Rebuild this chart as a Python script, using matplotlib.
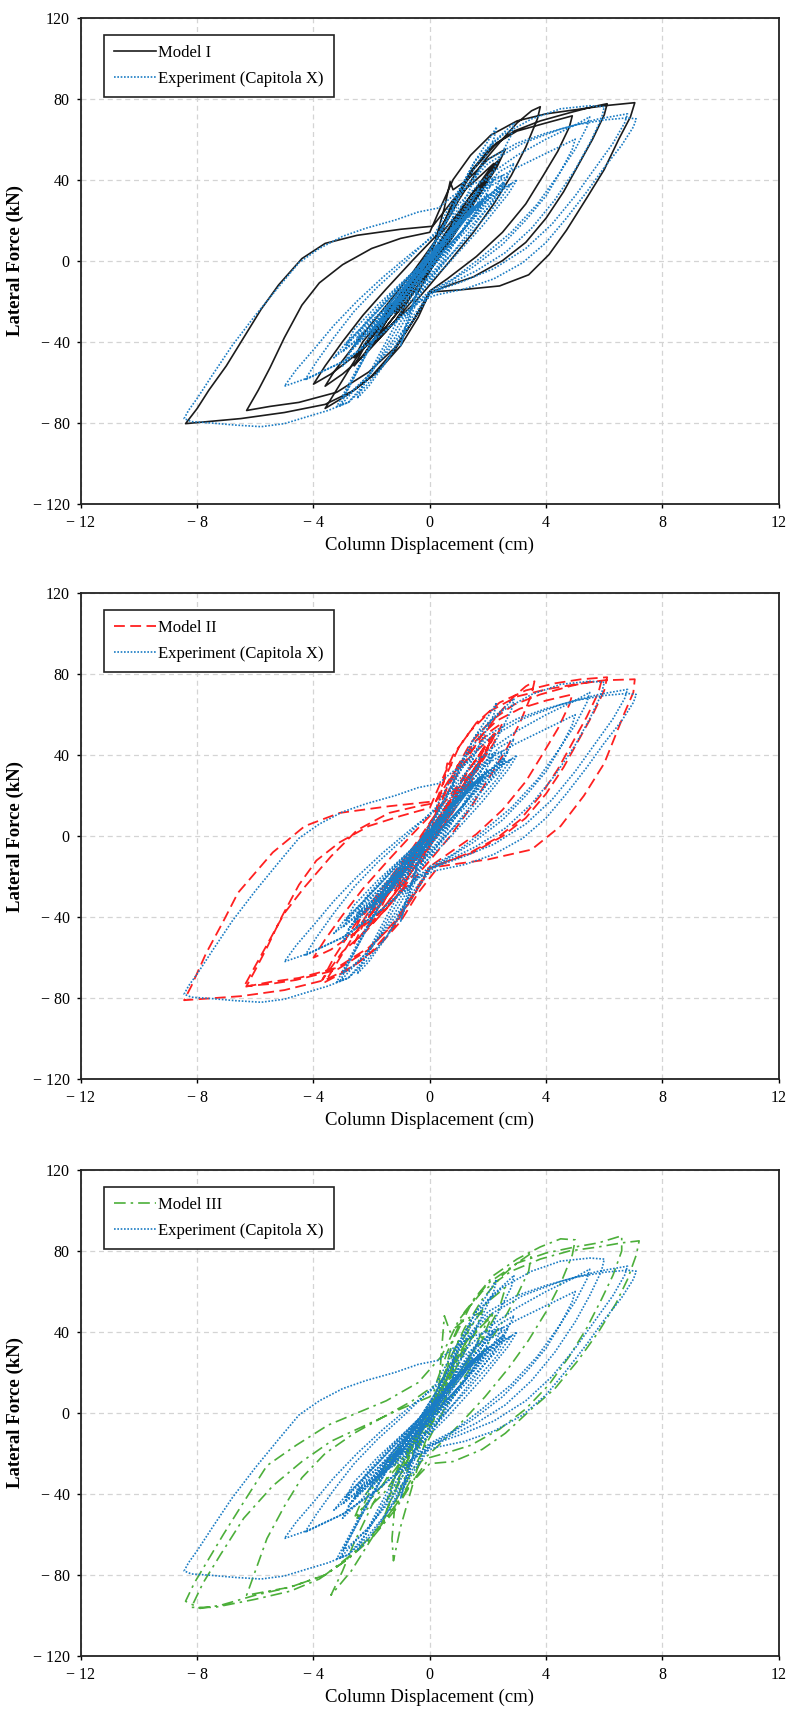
import matplotlib
matplotlib.use("Agg")
import matplotlib.pyplot as plt
from matplotlib.ticker import FuncFormatter, MultipleLocator

plt.rcParams['font.family'] = ['Liberation Serif', 'DejaVu Serif']

# ---- data: (column displacement cm, lateral force kN) ----
# Experiment (Capitola X), same record in all three panels
exp_path = [
    (0, 0), (0.3, 6), (0.5, 9), (0.3, 4), (0, -2), (-0.3, -7), (-0.5, -10), (-0.3, -5), (0, 1),
    (0.5, 11), (1.0, 19), (0.7, 12), (0.2, 2), (-0.3, -7), (-0.7, -14), (-1.0, -20), (-0.7, -13), (-0.2, -3), (0.3, 6),
    (0.8, 16), (1.5, 27), (1.2, 20), (0.6, 8), (0, -4), (-0.7, -15), (-1.5, -28), (-1.2, -21), (-0.6, -10), (0, 2), (0.6, 12),
    (1.2, 22), (2.0, 33), (1.7, 26), (1.0, 12), (0.2, -4), (-0.8, -18), (-2.0, -36), (-1.7, -29), (-1.0, -17), (-0.2, -2), (0.7, 14),
    (1.5, 26), (2.5, 38), (2.2, 30), (1.4, 15), (0.4, -3), (-0.8, -20), (-2.6, -42), (-2.3, -35), (-1.4, -21), (-0.3, -2), (0.8, 15),
    (1.8, 28), (3.0, 40), (2.7, 33), (1.8, 17), (0.6, -2), (-0.8, -22), (-2.0, -33), (-3.3, -48), (-2.9, -41), (-1.8, -25), (-0.6, -6), (0.6, 12),
    (2.0, 32), (2.8, 38), (2.3, 28), (1.2, 10), (0, -8), (-1.5, -28), (-3.0, -45), (-2.6, -37), (-1.4, -19), (0, 2), (1.0, 18),
    (1.8, 29), (1.2, 16), (0.3, 2), (-0.8, -16), (-1.8, -32), (-1.3, -20), (-0.3, -4), (0.3, 8),
    (0.6, 14), (1.4, 24), (2.2, 34), (2.6, 38), (2.4, 32), (1.6, 20), (0.8, 8), (0, -4), (-0.8, -16), (-1.6, -28),
    (-2.4, -40), (-2.8, -46), (-2.5, -40), (-1.7, -28), (-0.9, -15), (-0.1, -1), (0.7, 12),
    (1.5, 28), (2.2, 40), (1.9, 32), (1.1, 18), (0.3, 4), (-0.5, -10), (-1.3, -24), (-2.1, -38), (-1.8, -30), (-1.0, -16),
    (-0.2, -2), (0.6, 12),
    (1.0, 22), (1.7, 36), (1.4, 28), (0.7, 14), (0, 0), (-0.4, -12), (-0.7, -28), (-1.0, -42), (-0.8, -30), (-0.5, -18),
    (-0.2, -6), (0.3, 6),
    (0.9, 20), (1.6, 32), (2.4, 44), (2.9, 48), (2.6, 40), (1.9, 28), (1.1, 14), (0.3, 0), (-0.6, -14), (-1.5, -28),
    (-2.3, -42), (-3.0, -52), (-2.7, -44), (-2.0, -32), (-1.2, -18), (-0.4, -4), (0.4, 8),
    (1.2, 24), (2.0, 36), (2.7, 42), (2.4, 34), (1.6, 22), (0.8, 10), (-0.2, -6), (-1.2, -20), (-2.2, -32), (-2.9, -42),
    (-2.6, -34), (-1.8, -22), (-0.9, -10), (0, 2), (0.8, 14),
    (0.8, 28), (1.5, 48), (2.0, 59), (2.3, 66), (2.2, 60), (1.6, 42), (1.0, 24), (0.4, 6), (0, -6), (-0.5, -20),
    (-1.2, -38), (-2.0, -55), (-2.6, -64), (-3.1, -72), (-2.9, -66), (-2.4, -52), (-1.8, -36), (-1.1, -20), (-0.4, -4), (0.2, 10),
    (1.2, 38), (2.0, 56), (2.6, 64), (2.9, 68), (2.8, 62), (2.3, 48), (1.7, 30), (1.0, 12), (0.3, -4), (-0.3, -16),
    (-0.8, -32), (-1.5, -50), (-2.1, -62), (-2.5, -68), (-2.3, -62), (-1.8, -48), (-1.2, -32), (-0.6, -14), (0, 2), (0.4, 12),
    (1.0, 26), (2.0, 38), (3.0, 46), (4.0, 53), (5.0, 60), (4.9, 55), (4.5, 44), (4.0, 32), (3.3, 20), (2.5, 8), (1.5, -3),
    (0.5, -12), (0, -16), (-0.8, -26), (-1.8, -38), (-3.0, -50), (-4.2, -58), (-5.0, -62), (-4.6, -54), (-4.0, -44),
    (-3.3, -32), (-2.5, -20), (-1.6, -8), (-0.6, 4), (0.3, 14),
    (1.0, 28), (2.0, 42), (3.0, 52), (4.0, 60), (5.0, 67), (5.5, 71), (5.4, 66), (5.0, 55), (4.4, 42), (3.7, 28), (2.8, 14),
    (1.8, 2), (0.8, -9), (0, -15), (-0.8, -25), (-1.8, -38), (-3.0, -50), (-4.3, -59), (-3.9, -50), (-3.3, -38),
    (-2.6, -25), (-1.8, -13), (-0.8, 0), (0.2, 14),
    (0.8, 30), (1.6, 50), (2.5, 62), (3.5, 70), (4.5, 75), (5.5, 76.5), (6.0, 76), (5.9, 70), (5.5, 58), (5.0, 45), (4.3, 30),
    (3.5, 16), (2.6, 4), (1.6, -5), (0.6, -12), (0, -17), (-0.6, -30), (-1.4, -48), (-2.2, -62), (-2.8, -70), (-3.2, -72),
    (-2.9, -64), (-2.3, -48), (-1.6, -30), (-0.8, -12), (0, 4), (0.4, 14),
    (1.0, 32), (2.0, 48), (3.2, 58), (4.5, 65), (5.8, 70), (6.8, 72.5), (6.7, 68), (6.3, 58), (5.7, 46), (5.0, 32), (4.2, 18),
    (3.3, 6), (2.2, -4), (1.0, -11), (0, -16), (-0.6, -28), (-1.4, -44), (-2.2, -58), (-2.8, -66), (-3.0, -68), (-2.7, -60),
    (-2.1, -44), (-1.4, -26), (-0.6, -8), (0.2, 10),
    (0.6, 20), (1.2, 36), (2.0, 50), (3.0, 58), (4.0, 63), (5.0, 67), (6.0, 69.5), (6.8, 70.5), (7.1, 70), (7.0, 66), (6.6, 57),
    (6.0, 46), (5.4, 34), (4.7, 21), (4.0, 9), (3.2, -1), (2.2, -9), (1.2, -14), (0.2, -17), (-0.5, -21), (-1.0, -30),
    (-1.6, -45), (-2.2, -60), (-2.8, -70), (-3.5, -74), (-4.2, -77), (-5.0, -80.5), (-5.8, -82), (-6.7, -81.2), (-7.5, -80.2),
    (-8.2, -79.5), (-8.45, -78), (-8.3, -74), (-8.0, -68), (-7.5, -57), (-6.8, -42), (-6.0, -27), (-5.2, -13), (-4.5, -1),
    (-3.8, 6), (-3.0, 12), (-2.2, 16), (-1.2, 20), (-0.4, 24), (0.3, 26),
    (0.8, 32), (1.5, 38), (2.5, 42), (2.2, 34), (1.4, 20), (0.5, 4), (-0.5, -12), (-1.5, -26), (-2.5, -38), (-2.2, -30),
    (-1.3, -16), (-0.3, -2), (0.5, 12), (1.0, 18), (0.5, 8), (0, 0),
]

# Model I (solid black)
model1_path = [
    (0, 0), (0.4, 8), (0.7, 14), (0.4, 6), (0, -2), (-0.4, -9), (-0.7, -15), (-0.4, -7), (0, 1),
    (0.5, 11), (1.2, 24), (0.9, 17), (0.3, 4), (-0.3, -8), (-0.8, -18), (-1.2, -26), (-0.9, -18), (-0.3, -5), (0.3, 8),
    (1.0, 22), (1.8, 36), (1.5, 28), (0.8, 12), (0, -5), (-0.8, -20), (-1.8, -38), (-1.5, -30), (-0.8, -15), (0, 2), (0.7, 17),
    (1.4, 32), (2.3, 48), (2.0, 40), (1.2, 22), (0.3, 2), (-0.8, -20), (-1.8, -38), (-2.6, -52), (-2.3, -44), (-1.5, -28),
    (-0.6, -10), (0.3, 12),
    (0.9, 22), (1.6, 36), (2.1, 46), (2.4, 50), (2.1, 42), (1.4, 28), (0.6, 12), (-0.2, -4), (-1.0, -20), (-1.8, -34),
    (-2.6, -48), (-2.3, -40), (-1.5, -26), (-0.7, -12), (0.1, 4),
    (0.8, 18), (1.5, 32), (2.0, 42), (1.7, 34), (1.0, 20), (0.2, 2), (-0.6, -14), (-1.4, -28), (-2.0, -38), (-1.6, -28),
    (-0.8, -14), (0, 0),
    (0.5, 26), (0.7, 39), (0.8, 35), (1.3, 40), (2.0, 50), (2.6, 55), (2.3, 46), (1.5, 28), (0.6, 8), (-0.3, -10), (-1.2, -30),
    (-2.2, -46), (-3.0, -56), (-3.6, -62), (-3.3, -55), (-2.5, -40), (-1.6, -24), (-0.6, -6), (0.3, 12),
    (1.0, 30), (1.8, 48), (2.5, 60), (3.0, 68), (3.5, 74), (3.8, 76), (3.7, 70), (3.3, 56), (2.8, 42), (2.2, 28), (1.5, 14),
    (0.7, 0), (0, -12), (-0.6, -22), (-1.5, -34), (-2.5, -46), (-3.4, -56), (-4.0, -61), (-3.6, -52), (-3.0, -40),
    (-2.3, -27), (-1.5, -14), (-0.6, 0), (0.2, 12),
    (0.6, 22), (1.5, 45), (2.3, 58), (3.0, 64), (4.0, 68), (4.9, 71.5), (4.8, 66), (4.4, 54), (3.9, 42), (3.3, 28), (2.5, 14),
    (1.6, 2), (0.6, -9), (0, -15), (-0.5, -28), (-1.2, -44), (-2.0, -57), (-2.8, -66), (-3.6, -73), (-3.3, -66), (-2.7, -52),
    (-2.0, -36), (-1.2, -20), (-0.4, -4), (0.3, 12),
    (0.7, 26), (1.4, 44), (2.1, 56), (2.9, 64), (3.8, 69), (4.8, 73), (5.6, 76), (6.1, 77.5), (6.0, 72), (5.6, 60), (5.1, 47),
    (4.6, 34), (4.0, 21), (3.3, 9), (2.5, 0), (1.5, -8), (0.5, -13), (0, -16), (-0.5, -28), (-1.2, -43), (-2.1, -55),
    (-3.2, -65), (-4.5, -70), (-5.5, -72), (-6.3, -74), (-5.9, -64), (-5.5, -53), (-5.0, -38), (-4.4, -22), (-3.8, -11),
    (-3.0, -2), (-2.0, 6), (-1.0, 11), (0.0, 14),
    (0.3, 24), (0.8, 40), (1.4, 52), (2.1, 62), (3.0, 69), (4.0, 72.5), (5.0, 74.5), (6.0, 76.5), (7.05, 78), (6.9, 71),
    (6.5, 60), (6.0, 45), (5.4, 31), (4.7, 15), (4.1, 3), (3.4, -7), (2.4, -12.5), (1.0, -14.5), (0, -15.5), (-0.4, -28),
    (-1.0, -42), (-1.8, -55), (-2.6, -64), (-3.6, -71), (-5.0, -75), (-6.5, -78), (-8.4, -80.5), (-8.0, -73), (-7.6, -64),
    (-7.0, -52), (-6.4, -38), (-5.8, -24), (-5.2, -12), (-4.4, 1), (-3.6, 8.5), (-2.5, 12.5), (-1.0, 15.5), (0.1, 17),
    (0.8, 30), (1.6, 40), (2.2, 48), (1.8, 38), (1.0, 20), (0.2, 0), (-0.5, -18), (-1.5, -35), (-2.2, -45), (-1.8, -36),
    (-1.0, -20), (-0.2, -2), (0, 0),
]

# Model II (dashed red)
model2_path = [
    (0, 0), (0.4, 9), (0.7, 15), (0.4, 6), (0, -2), (-0.4, -9), (-0.7, -16), (-0.4, -7), (0, 1),
    (0.5, 12), (1.2, 26), (0.9, 18), (0.3, 4), (-0.3, -8), (-0.8, -19), (-1.2, -27), (-0.9, -18), (-0.3, -5), (0.3, 9),
    (1.0, 24), (1.8, 38), (1.5, 29), (0.8, 12), (0, -5), (-0.8, -21), (-1.8, -39), (-1.5, -30), (-0.8, -15), (0, 2), (0.7, 18),
    (1.4, 34), (2.2, 50), (1.9, 41), (1.1, 22), (0.3, 2), (-0.8, -21), (-1.8, -39), (-2.6, -53), (-2.3, -44), (-1.5, -28),
    (-0.6, -10), (0.3, 13),
    (0.9, 24), (1.6, 38), (2.0, 47), (2.3, 52), (2.0, 43), (1.3, 28), (0.5, 12), (-0.3, -4), (-1.1, -21), (-1.9, -36),
    (-2.7, -50), (-2.4, -41), (-1.6, -27), (-0.8, -12), (0.1, 5),
    (0.8, 20), (1.4, 34), (1.9, 44), (1.6, 35), (0.9, 20), (0.1, 2), (-0.7, -15), (-1.5, -30), (-2.1, -40), (-1.7, -29),
    (-0.9, -15), (0, 0),
    (0.5, 28), (0.6, 36), (0.9, 34), (1.4, 42), (2.1, 52), (2.5, 56), (2.2, 46), (1.4, 28), (0.6, 8), (-0.3, -10), (-1.2, -31),
    (-2.2, -47), (-3.0, -57), (-3.7, -71), (-3.3, -60), (-2.5, -42), (-1.6, -25), (-0.6, -6), (0.3, 13),
    (1.0, 32), (1.8, 50), (2.4, 61), (2.9, 69), (3.3, 74), (3.6, 76.5), (3.5, 70), (3.1, 56), (2.6, 42), (2.0, 28), (1.4, 14),
    (0.7, 0), (0, -12), (-0.6, -22), (-1.5, -35), (-2.5, -47), (-3.4, -56), (-4.0, -60), (-3.6, -51), (-3.0, -39),
    (-2.3, -26), (-1.5, -13), (-0.6, 1), (0.2, 13),
    (0.6, 24), (1.5, 46), (2.3, 57), (3.1, 63), (4.0, 67), (4.9, 70), (4.8, 65), (4.4, 53), (3.9, 41), (3.3, 27), (2.5, 13),
    (1.6, 1), (0.6, -9), (0, -15), (-0.5, -28), (-1.2, -44), (-2.0, -57), (-2.8, -66), (-3.6, -72), (-3.3, -65), (-2.7, -51),
    (-2.0, -35), (-1.2, -19), (-0.4, -3), (0.3, 13),
    (0.7, 28), (1.4, 46), (2.1, 57), (2.9, 65), (3.8, 70), (4.8, 74), (5.4, 76), (5.9, 76.5), (5.8, 71), (5.4, 59), (4.9, 46),
    (4.4, 33), (3.8, 20), (3.1, 8), (2.3, -1), (1.4, -8), (0.5, -13), (0, -16), (-0.5, -28), (-1.2, -43), (-2.1, -55),
    (-3.2, -65), (-4.5, -70), (-5.5, -72), (-6.4, -74.5), (-6.0, -64), (-5.5, -51), (-5.0, -38), (-4.3, -25), (-3.4, -10),
    (-2.5, 3), (-1.4, 11.5), (-0.5, 14.5), (0.2, 16.5),
    (0.5, 28), (1.0, 44), (1.6, 56), (2.4, 66), (3.3, 72), (4.3, 75.5), (5.2, 77.5), (6.1, 78.5), (6.0, 72), (5.6, 60),
    (5.1, 47), (4.6, 34), (4.0, 21), (3.3, 9), (2.5, 0), (1.5, -8), (0.5, -13), (0, -15), (-0.5, -27), (-1.2, -42),
    (-2.1, -56), (-3.2, -66), (-4.6, -71), (-5.5, -73), (-6.3, -74), (-6.0, -66), (-5.6, -55), (-5.1, -40), (-4.5, -24),
    (-3.9, -12), (-3.1, -3), (-2.1, 5), (-1.0, 10), (0.0, 14),
    (0.3, 24), (0.8, 40), (1.4, 52), (2.1, 62), (3.0, 69), (4.0, 72.5), (5.0, 75), (6.0, 77), (7.05, 77.5), (7.0, 71),
    (6.7, 61), (6.0, 36), (5.3, 20), (4.5, 5), (3.5, -6.6), (2.0, -11.5), (1.0, -13.5), (0.3, -15), (-0.4, -28),
    (-1.0, -42), (-1.8, -55), (-2.6, -64), (-3.6, -71), (-5.0, -76), (-6.5, -79), (-8.45, -81), (-8.2, -74), (-7.7, -58),
    (-7.1, -42), (-6.6, -28), (-5.4, -8), (-4.3, 5), (-3.1, 11.5), (-1.4, 14.8), (0.2, 17.3),
    (0.8, 31), (1.6, 42), (2.2, 50), (1.8, 39), (1.0, 20), (0.2, 0), (-0.5, -18), (-1.5, -36), (-2.2, -46), (-1.8, -36),
    (-1.0, -20), (-0.2, -2), (0, 0),
]

# Model III (dash-dot green)
model3_path = [
    (0, 0), (0.5, 14), (0.8, 22), (0.5, 12), (0, -4), (-0.5, -14), (-0.8, -22), (-0.5, -12), (0, 2),
    (0.6, 18), (1.2, 32), (0.9, 22), (0.3, 6), (-0.4, -12), (-0.9, -24), (-1.3, -34), (-1.0, -24), (-0.3, -6), (0.3, 10),
    (0.4, 30), (0.5, 48), (0.7, 40), (1.2, 46), (1.8, 50), (1.5, 38), (0.8, 20), (0, 0), (-0.6, -18), (-1.2, -38),
    (-1.6, -52), (-1.3, -42), (-0.7, -24), (0, -4), (0.5, 14),
    (1.0, 28), (1.6, 40), (2.2, 50), (1.9, 40), (1.2, 24), (0.4, 6), (-0.4, -12), (-1.2, -28), (-2.0, -42), (-2.6, -52),
    (-2.3, -42), (-1.6, -28), (-0.8, -12), (0, 4),
    (0.6, 22), (1.0, 36), (1.4, 44), (1.2, 34), (0.6, 18), (0, 2), (-0.6, -16), (-1.0, -30), (-1.5, -44), (-1.2, -32),
    (-0.6, -16), (0, -2),
    (1.2, 38), (2.0, 55), (2.6, 62), (2.4, 52), (1.8, 36), (1.0, 18), (0.2, -2), (-0.6, -22), (-1.2, -45), (-1.3, -62),
    (-1.25, -73), (-1.0, -56), (-0.6, -36), (-0.2, -16), (0.3, 4),
    (0.6, 24), (1.2, 42), (1.8, 56), (2.5, 68), (3.0, 74), (3.5, 79), (3.4, 70), (3.0, 58), (2.5, 45), (1.9, 32), (1.2, 18),
    (0.5, 2), (0, -12), (-0.5, -26), (-1.2, -44), (-2.0, -62), (-2.7, -78), (-3.4, -90), (-3.0, -78), (-2.6, -64),
    (-2.0, -46), (-1.4, -30), (-0.7, -14), (0, 2), (0.4, 14),
    (0.8, 36), (1.5, 56), (2.2, 68), (3.0, 76), (3.8, 82), (4.5, 86), (5.0, 85.5), (4.9, 78), (4.5, 64), (4.0, 50),
    (3.4, 36), (2.7, 22), (1.9, 8), (1.0, -6), (0.3, -16), (-0.3, -24), (-1.0, -42), (-1.8, -58), (-2.7, -70), (-3.6, -80),
    (-4.8, -86), (-6.3, -90), (-6.0, -78), (-5.6, -62), (-5.0, -46), (-4.4, -32), (-3.6, -20), (-2.6, -10), (-1.6, -2),
    (-0.6, 6), (0.2, 14),
    (0.6, 30), (1.2, 50), (2.0, 64), (3.0, 74), (4.0, 79), (5.0, 82), (5.8, 84), (6.6, 87.5), (6.6, 80), (6.3, 68), (5.9, 56),
    (5.4, 42), (4.8, 28), (4.1, 14), (3.3, 2), (2.4, -8), (1.4, -16), (0.5, -20), (0, -22), (-0.5, -32), (-1.2, -48),
    (-2.0, -62), (-2.8, -72), (-3.6, -80), (-4.8, -86), (-6.0, -90), (-7.2, -95), (-7.9, -96.5), (-8.4, -93), (-8.1, -84),
    (-7.6, -72), (-7.1, -60), (-6.4, -44), (-5.6, -26), (-4.6, -16), (-3.5, -6), (-2.5, 0), (-1.5, 6), (-0.4, 15),
    (0.4, 28), (1.0, 46), (1.8, 60), (2.8, 70), (3.8, 76), (4.8, 80), (5.8, 82), (6.6, 84), (7.2, 85), (7.1, 78), (6.8, 66),
    (6.4, 54), (5.8, 40), (5.1, 26), (4.3, 12), (3.5, 2), (2.6, -10), (1.8, -18), (0.8, -24), (0, -25), (-0.6, -34),
    (-1.4, -50), (-2.2, -64), (-3.0, -74), (-3.8, -82), (-4.8, -88), (-6.0, -92), (-7.4, -96), (-8.2, -96), (-7.8, -84),
    (-7.2, -70), (-6.4, -52), (-5.4, -36), (-4.4, -24), (-3.4, -14), (-2.2, -6), (-1.0, 2), (0, 8),
    (0.6, 20), (1.3, 36), (2.0, 46), (1.6, 34), (0.8, 14), (0, -6), (-0.8, -24), (-1.6, -40), (-2.5, -52), (-2.1, -40),
    (-1.3, -22), (-0.4, -4), (0.2, 8),
]

model_labels = ['Model I', 'Model II', 'Model III']
exp_label = 'Experiment (Capitola X)'

styles = [
    dict(color='#1c1c1c', linestyle='-', linewidth=1.2),
    dict(color='#ff2020', linestyle=(0, (6, 3)), linewidth=1.3),
    dict(color='#4caf3a', linestyle=(0, (7, 3, 1.5, 3)), linewidth=1.2),
]
exp_style = dict(color='#1a7cc4', linestyle=(0, (1, 1)), linewidth=1.2)


def tick_fmt(v, pos):
    if v < 0:
        return '\u2212 %g' % abs(v)
    return '%g' % v


fig = plt.figure(figsize=(7.93, 17.13), dpi=100)
bottoms = [0.706, 0.370, 0.0333]

for i, path in enumerate([model1_path, model2_path, model3_path]):
    ax = fig.add_axes([0.102, bottoms[i], 0.880, 0.2837])
    mx, my = zip(*path)
    ex, ey = zip(*exp_path)
    ax.plot(mx, my, label=model_labels[i], **styles[i])
    ax.plot(ex, ey, label=exp_label, **exp_style)

    ax.set_xlim(-12, 12)
    ax.set_ylim(-120, 120)
    ax.xaxis.set_major_locator(MultipleLocator(4))
    ax.yaxis.set_major_locator(MultipleLocator(40))
    ax.xaxis.set_major_formatter(FuncFormatter(tick_fmt))
    ax.yaxis.set_major_formatter(FuncFormatter(tick_fmt))
    ax.tick_params(direction='out', length=3, width=1, labelsize=11.5, pad=5)
    ax.grid(True, color='#d4d4d4', linestyle=(0, (4, 3)), linewidth=0.9)
    ax.set_axisbelow(True)
    for s in ax.spines.values():
        s.set_linewidth(1.3)
        s.set_color('#222222')

    ax.set_xlabel('Column Displacement (cm)', fontsize=13.5, labelpad=4)
    ax.set_ylabel('Lateral Force (kN)', fontsize=13.5, fontweight='bold', labelpad=6)

    leg = ax.legend(loc='upper left', bbox_to_anchor=(0.033, 0.965), borderaxespad=0,
                    fontsize=12, handlelength=2.5, handletextpad=0.15, labelspacing=0.6,
                    borderpad=0.6, fancybox=False, framealpha=1)
    leg.get_frame().set_edgecolor('#222222')
    leg.get_frame().set_linewidth(1.2)

fig.savefig('out.png', dpi=100)
